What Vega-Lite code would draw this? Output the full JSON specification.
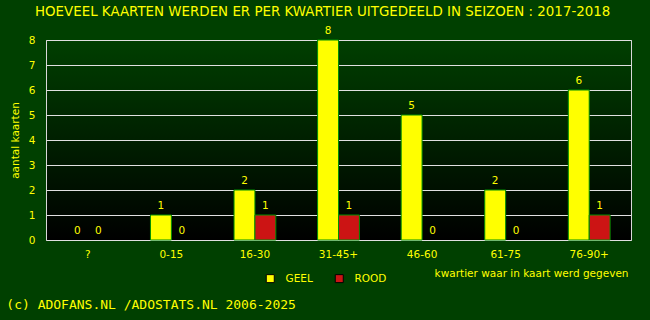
{
  "$schema": "https://vega.github.io/schema/vega-lite/v6.json",
  "padding": {"left": 5, "top": 5, "right": 20, "bottom": 8},
  "background": "#004000",
  "title": {
    "text": "HOEVEEL KAARTEN WERDEN ER PER KWARTIER UITGEDEELD IN SEIZOEN : 2017-2018",
    "anchor": "middle",
    "font": "DejaVu Sans",
    "fontSize": 13.4,
    "fontWeight": "normal",
    "color": "#ffff00",
    "dx": 4,
    "offset": 7
  },
  "data": {
    "values": [
      {"kwartier": "?", "soort": "GEEL", "aantal": 0},
      {"kwartier": "?", "soort": "ROOD", "aantal": 0},
      {"kwartier": "0-15", "soort": "GEEL", "aantal": 1},
      {"kwartier": "0-15", "soort": "ROOD", "aantal": 0},
      {"kwartier": "16-30", "soort": "GEEL", "aantal": 2},
      {"kwartier": "16-30", "soort": "ROOD", "aantal": 1},
      {"kwartier": "31-45+", "soort": "GEEL", "aantal": 8},
      {"kwartier": "31-45+", "soort": "ROOD", "aantal": 1},
      {"kwartier": "46-60", "soort": "GEEL", "aantal": 5},
      {"kwartier": "46-60", "soort": "ROOD", "aantal": 0},
      {"kwartier": "61-75", "soort": "GEEL", "aantal": 2},
      {"kwartier": "61-75", "soort": "ROOD", "aantal": 0},
      {"kwartier": "76-90+", "soort": "GEEL", "aantal": 6},
      {"kwartier": "76-90+", "soort": "ROOD", "aantal": 1}
    ]
  },
  "vconcat": [
    {
      "width": 585,
      "height": 200,
      "title": {
        "text": "(c) ADOFANS.NL /ADOSTATS.NL 2006-2025",
        "orient": "bottom",
        "anchor": "start",
        "font": "DejaVu Sans Mono",
        "fontSize": 13,
        "fontWeight": "normal",
        "color": "#ffff00",
        "dx": -4,
        "offset": 20
      },
      "encoding": {
        "x": {
          "field": "kwartier",
          "type": "nominal",
          "sort": ["?", "0-15", "16-30", "31-45+", "46-60", "61-75", "76-90+"],
          "scale": {"paddingInner": 0.5, "paddingOuter": 0.25},
          "axis": {
            "title": "kwartier waar in kaart werd gegeven",
            "titleX": 582,
            "titleY": 33,
            "titleAlign": "right",
            "titleAnchor": null,
            "titleBaseline": "middle",
            "labelAngle": 0,
            "labelPadding": 9,
            "ticks": false,
            "domain": false,
            "grid": false
          }
        },
        "xOffset": {"field": "soort", "type": "nominal", "scale": {"domain": ["GEEL", "ROOD"], "padding": 0}},
        "y": {
          "field": "aantal",
          "type": "quantitative",
          "scale": {"domain": [0, 8], "nice": false},
          "axis": {
            "title": "aantal kaarten",
            "values": [0, 1, 2, 3, 4, 5, 6, 7, 8],
            "labelPadding": 11,
            "titlePadding": 8,
            "ticks": false,
            "domain": false,
            "grid": true
          }
        }
      },
      "layer": [
        {
          "mark": {"type": "bar", "stroke": "#009000", "strokeWidth": 1},
          "encoding": {
            "strokeOpacity": {"condition": {"test": "datum.aantal > 0", "value": 1}, "value": 0},
            "color": {
              "field": "soort",
              "type": "nominal",
              "scale": {"domain": ["GEEL", "ROOD"], "range": ["#ffff00", "#cc1414"]},
              "legend": {
                "title": null,
                "orient": "none",
                "direction": "horizontal",
                "legendX": 219,
                "legendY": 233,
                "symbolType": "square",
                "symbolSize": 64,
                "symbolStrokeColor": "#000000",
                "symbolStrokeWidth": 1,
                "symbolOpacity": 1,
                "labelColor": "#ffff00",
                "labelFont": "DejaVu Sans",
                "labelFontSize": 10.5,
                "labelOffset": 10,
                "columnPadding": 20
              }
            }
          }
        },
        {
          "mark": {"type": "text", "baseline": "bottom", "dy": -4, "color": "#ffff00", "font": "DejaVu Sans", "fontSize": 10.5},
          "encoding": {"text": {"field": "aantal", "type": "quantitative"}}
        }
      ]
    }
  ],
  "config": {
    "view": {
      "stroke": "#d8d8d8",
      "strokeWidth": 1,
      "fill": {
        "gradient": "linear",
        "x1": 0, "y1": 0, "x2": 0, "y2": 1,
        "stops": [{"offset": 0, "color": "#003f00"}, {"offset": 1, "color": "#000000"}]
      }
    },
    "axis": {
      "labelColor": "#ffff00",
      "titleColor": "#ffff00",
      "labelFont": "DejaVu Sans",
      "titleFont": "DejaVu Sans",
      "labelFontSize": 10.5,
      "titleFontSize": 10.5,
      "titleFontWeight": "normal",
      "gridColor": "#e0e0e0",
      "gridOpacity": 1,
      "gridWidth": 1
    }
  }
}
